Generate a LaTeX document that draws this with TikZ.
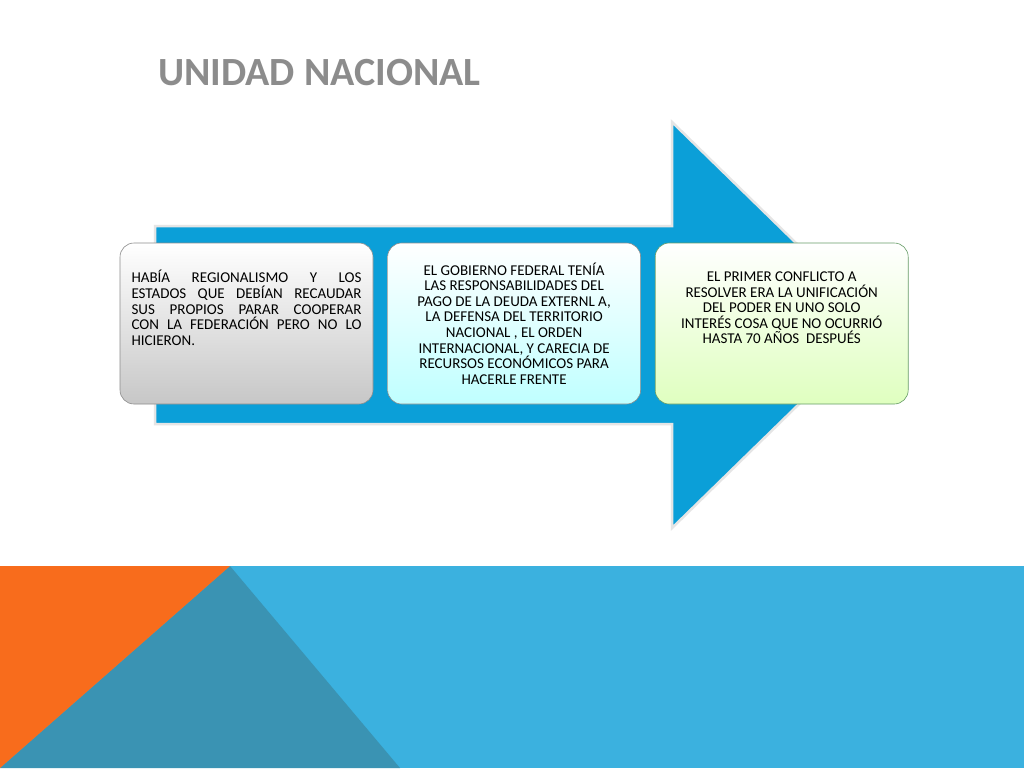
\documentclass[tikz,border=0pt]{standalone}
\usepackage{fontspec}
\setmainfont{Carlito}
\usetikzlibrary{positioning}
\definecolor{arrowblue}{HTML}{0B9FD8}
\definecolor{bandblue}{HTML}{3BB1DF}
\definecolor{bandteal}{HTML}{3A93B3}
\definecolor{bandorange}{HTML}{F86C1C}
\definecolor{titlegray}{HTML}{8C8C8C}
\newcommand{\jline}[1]{\makebox[230pt][s]{#1}}
\tikzset{
  card/.style={rounded corners=14pt, draw=black!45, line width=0.6pt,
    minimum width=253pt, minimum height=161pt,
    font=\fontsize{15}{15.6}\selectfont, inner sep=0pt}
}
\begin{document}
\begin{tikzpicture}[x=1pt,y=-1pt]
  \useasboundingbox (0,0) rectangle (1024,768);
  \fill[white] (0,0) rectangle (1024,768);
  % Bottom band
  \fill[bandblue] (0,566) rectangle (1024,768);
  \fill[bandteal] (230,566) -- (400,768) -- (0,768) -- cycle;
  \fill[bandorange] (0,566) -- (230,566) -- (0,768) -- cycle;
  % Title
  \node[anchor=west, text=titlegray, font=\fontsize{40}{42}\selectfont\bfseries, inner sep=0pt] (title) at (158,73) {UNIDAD NACIONAL};
  % Big arrow
  \draw[fill=arrowblue, draw=black!10, line width=2.5pt, line join=miter]
    (155,226) -- (672,226) -- (672,122) -- (880,325) -- (672,528) -- (672,424) -- (155,424) -- cycle;
  % Cards
  \node[card, top color=white, bottom color=black!22, align=left] (c1) at (246.5,323.5)
    {\jline{HABÍA REGIONALISMO Y LOS}\\ \jline{ESTADOS QUE DEBÍAN RECAUDAR}\\ \jline{SUS PROPIOS PARAR COOPERAR}\\ \jline{CON LA FEDERACIÓN PERO NO LO}\\ HICIERON.\\[15.6pt]};
  \node[card, top color=white, bottom color=cyan!25, align=center, right=14pt of c1] (c2)
    {EL GOBIERNO FEDERAL TENÍA\\ LAS RESPONSABILIDADES DEL\\ PAGO DE LA DEUDA EXTERNL A,\\ LA DEFENSA DEL TERRITORIO\\ NACIONAL , EL ORDEN\\ INTERNACIONAL, Y CARECIA DE\\ RECURSOS ECONÓMICOS PARA\\ HACERLE FRENTE};
  \node[card, top color=white, bottom color=green!50!yellow!25, draw=green!35!black!60, align=center, right=14pt of c2] (c3)
    {EL PRIMER CONFLICTO A\\ RESOLVER ERA LA UNIFICACIÓN\\ DEL PODER EN UNO SOLO\\ INTERÉS COSA QUE NO OCURRIÓ\\ HASTA 70 AÑOS\ \ DESPUÉS\\[15.6pt]};
\end{tikzpicture}
\end{document}
